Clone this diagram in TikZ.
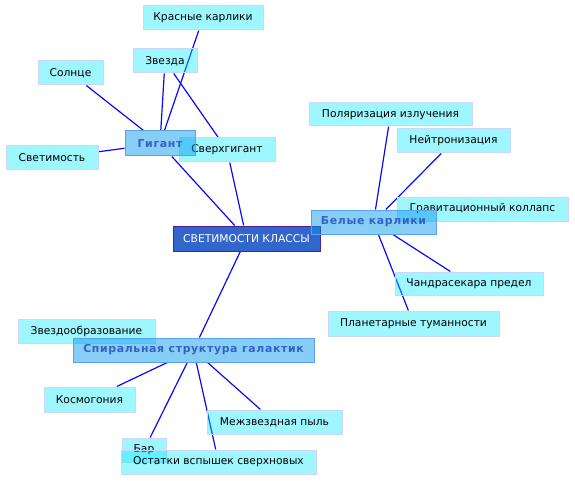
\documentclass[tikz,border=0pt]{standalone}
\usepackage{fontspec}
\setmainfont{DejaVu Sans}
\newfontfamily\hubfont[LetterSpace=6]{DejaVu Sans}
\usetikzlibrary{backgrounds}
\definecolor{leaffill}{RGB}{0,235,255}
\definecolor{leafdraw}{RGB}{200,215,250}
\definecolor{hubfill}{RGB}{0,150,235}
\definecolor{hubdraw}{RGB}{90,160,235}
\definecolor{hubtext}{RGB}{55,95,200}
\definecolor{cenfill}{RGB}{51,102,204}
\definecolor{cendraw}{RGB}{80,30,150}
\definecolor{edgecol}{RGB}{10,10,245}
\begin{document}
\begin{tikzpicture}[x=1pt,y=-1pt,
  every node/.style={inner sep=0pt,rectangle,font=\fontsize{10.7}{12}\selectfont},
  leaf/.style={fill=leaffill,fill opacity=0.38,text opacity=1,draw=leafdraw,draw opacity=1,line width=1pt,text=black},
  hub/.style={fill=hubfill,fill opacity=0.47,text opacity=1,draw=hubdraw,draw opacity=1,line width=1pt,text=hubtext,font=\fontsize{10.9}{12}\selectfont\hubfont\bfseries},
  cen/.style={fill=cenfill,draw=cendraw,line width=1pt,text=white},
  edge/.style={draw=edgecol,line width=1.2pt}]
\useasboundingbox (0,0) rectangle (575,481);
% leaves
\node[leaf,minimum width=120pt,minimum height=24pt] (kk) at (203,18) {Красные карлики};
\node[leaf,minimum width=64pt,minimum height=24pt] (zv) at (165,61) {Звезда};
\node[leaf,minimum width=65pt,minimum height=24pt] (sol) at (70.5,73) {Солнце};
\node[leaf,minimum width=92pt,minimum height=24pt] (svet) at (52,158) {Светимость};
\node[leaf,minimum width=96pt,minimum height=24pt] (sg) at (227,150) {Сверхгигант};
\node[leaf,minimum width=163pt,minimum height=23pt] (pol) at (390.5,114.5) {Поляризация излучения};
\node[leaf,minimum width=113pt,minimum height=24pt] (nei) at (453.5,141) {Нейтронизация};
\node[leaf,minimum width=171pt,minimum height=24pt] (grav) at (482.5,209) {Гравитационный коллапс};
\node[leaf,minimum width=148pt,minimum height=23pt] (chan) at (469,283.5) {Чандрасекара предел};
\node[leaf,minimum width=171pt,minimum height=25pt] (plan) at (413.5,323.5) {Планетарные туманности};
\node[leaf,minimum width=137pt,minimum height=24pt] (zvo) at (86.5,331) {Звездообразование};
\node[leaf,minimum width=91pt,minimum height=25pt] (kos) at (89.5,399.5) {Космогония};
\node[leaf,minimum width=135pt,minimum height=24pt] (mez) at (274.5,422) {Межзвездная пыль};
\node[leaf,minimum width=44pt,minimum height=24pt] (bar) at (144,450) {Бар};
\node[leaf,minimum width=195pt,minimum height=24pt] (ost) at (218.5,462) {Остатки вспышек сверхновых};
% centre
\node[cen,minimum width=147pt,minimum height=25pt] (c) at (246.5,238.5) {СВЕТИМОСТИ КЛАССЫ};
% hubs
\node[hub,minimum width=70pt,minimum height=25pt] (gig) at (160,143.5) {Гигант};
\node[hub,minimum width=125pt,minimum height=24pt] (bel) at (373.5,222) {Белые карлики};
\node[hub,minimum width=241pt,minimum height=24pt] (spi) at (193.5,350) {Спиральная структура галактик};
% edges
\begin{scope}[on background layer]
\draw[edge] (sol) -- (gig);
\draw[edge] (kk) -- (gig);
\draw[edge] (zv) -- (gig);
\draw[edge] (svet) -- (gig);
\draw[edge] (gig) -- (c);
\draw[edge] (zv) -- (sg);
\draw[edge] (sg) -- (c);
\draw[edge] (pol) -- (bel);
\draw[edge] (nei) -- (bel);
\draw[edge] (chan) -- (bel);
\draw[edge] (plan) -- (bel);
\draw[edge] (c) -- (spi);
\draw[edge] (kos) -- (spi);
\draw[edge] (bar) -- (spi);
\draw[edge] (ost) -- (spi);
\draw[edge] (mez) -- (spi);
\end{scope}
\end{tikzpicture}
\end{document}
